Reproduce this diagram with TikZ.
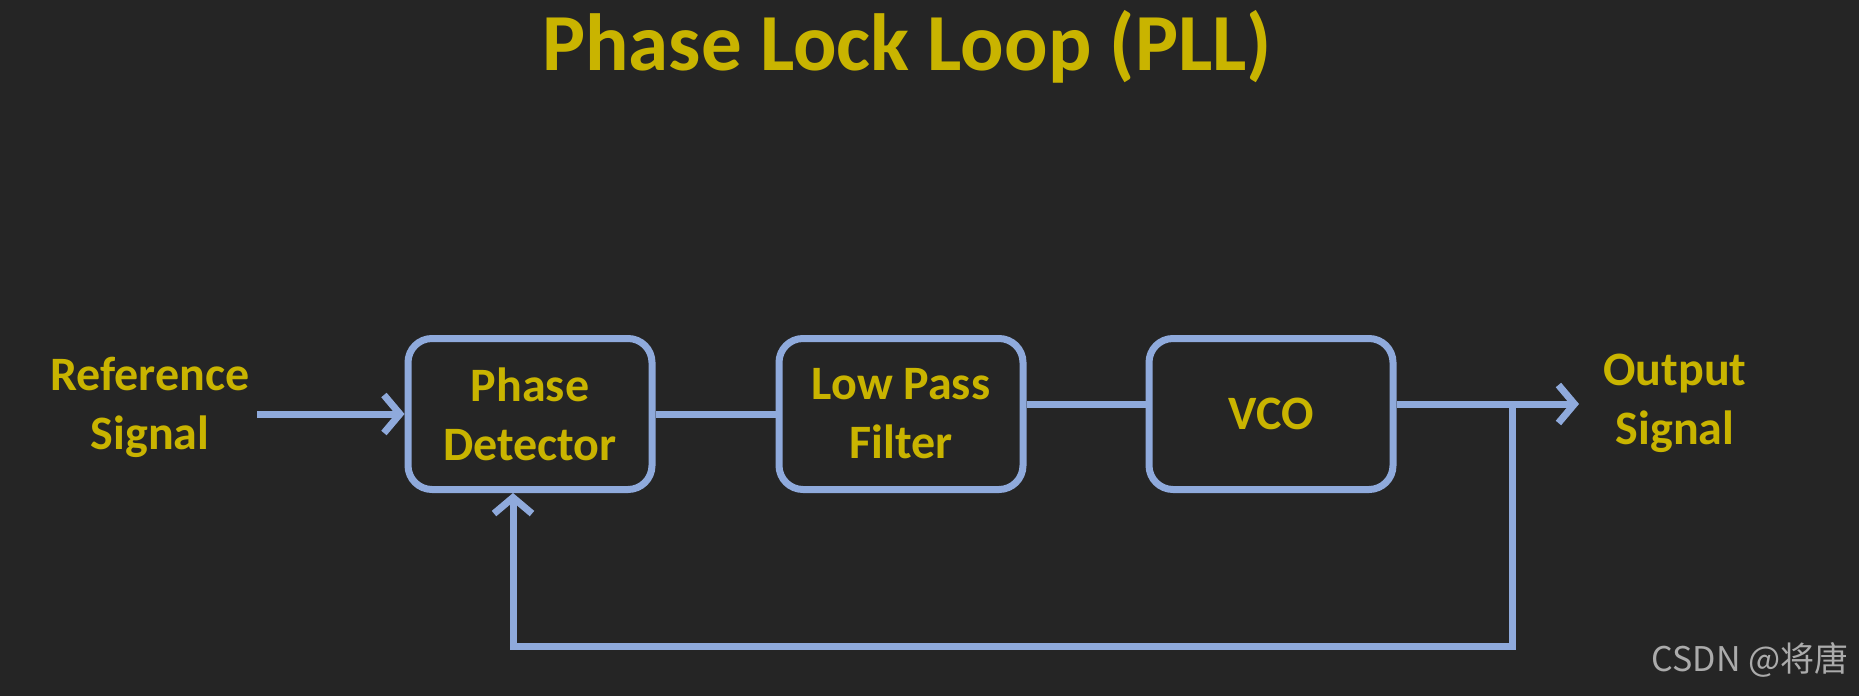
\documentclass[tikz,border=0pt]{standalone}
\usepackage{fontspec}
\setmainfont{Carlito}
\newfontfamily\cjk{Noto Sans CJK SC}
\usetikzlibrary{arrows.meta}
\definecolor{bgc}{HTML}{252525}
\definecolor{linec}{HTML}{8FAADC}
\definecolor{txtc}{HTML}{C9B400}
\definecolor{markc}{HTML}{ABABAB}
\tikzset{
	blockbox/.style={draw=linec, line width=7pt, rounded corners=24pt, minimum width=244pt, minimum height=151pt, align=center, text=txtc, font=\fontsize{48}{59}\selectfont\bfseries},
	lbl/.style={align=center, text=txtc, font=\fontsize{48}{59}\selectfont\bfseries},
	wire/.style={linec, line width=7pt},
	arr/.style={wire, -{Straight Barb[length=16pt, width=38pt, line width=7pt]}}
}
\begin{document}
\begin{tikzpicture}[x=1pt, y=-1pt]
		\fill[bgc] (0,0) rectangle (1859,696);
		\useasboundingbox (0,0) rectangle (1859,696);
		\node[text=txtc, font=\fontsize{81}{96}\selectfont\bfseries] (title) at (907,47) {Phase Lock Loop (PLL)};
		\node[blockbox] (pd) at (530,414) {Phase\\Detector};
		\node[blockbox] (lpf) at (901,414) {Low Pass\\Filter};
		\node[blockbox] (vco) at (1271,414) {VCO};
		\node[lbl] (ref) at (150,407) {Reference\\Signal};
		\node[lbl] (out) at (1675,403) {Output\\Signal};
		\node[text=markc, font=\fontsize{34}{40}\selectfont\cjk] (mark) at (1750,660) {CSDN @将唐};
		\coordinate (inbeg) at (257,414);
		\coordinate (br) at (1512,404);
		\coordinate (outend) at (1579,404);
		\coordinate (fb) at (1512,646);
		\draw[arr] (inbeg) -- (pd.west);
		\draw[wire] (pd.east) -- (lpf.west);
		\draw[wire] ([yshift=10pt]lpf.east) -- ([yshift=10pt]vco.west);
		\draw[arr] ([yshift=10pt]vco.east) -- (outend);
		\draw[arr] (br) -- (fb) -| ([xshift=-17pt]pd.south);
	\end{tikzpicture}
\end{document}
